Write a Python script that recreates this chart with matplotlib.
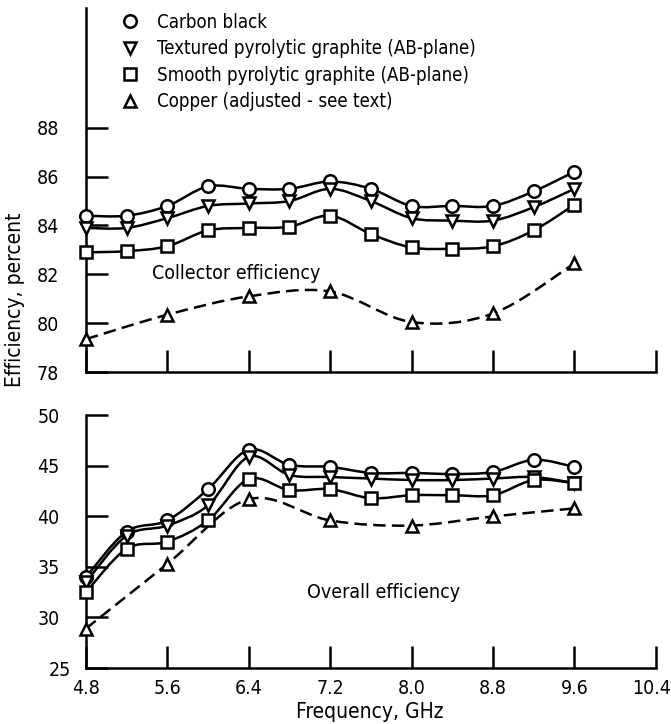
import numpy as np
import matplotlib
matplotlib.use("Agg")
import matplotlib.pyplot as plt
import matplotlib.transforms as mtransforms
from matplotlib.path import Path
from matplotlib.patches import PathPatch
from matplotlib.lines import Line2D

plt.rcParams['font.family'] = ['DejaVu Sans']
plt.rcParams['font.stretch'] = 'condensed'

# frequency points, GHz
freq = [4.8, 5.2, 5.6, 6.0, 6.4, 6.8, 7.2, 7.6, 8.0, 8.4, 8.8, 9.2, 9.6]
freq_cu = [4.8, 5.6, 6.4, 7.2, 8.0, 8.8, 9.6]

# collector efficiency, percent
coll_carbon = [84.4, 84.4, 84.8, 85.6, 85.5, 85.5, 85.8, 85.5, 84.8, 84.8, 84.8, 85.4, 86.2]
coll_textured = [83.9, 83.9, 84.3, 84.8, 84.9, 85.0, 85.5, 85.0, 84.3, 84.2, 84.2, 84.75, 85.5]
coll_smooth = [82.9, 82.95, 83.15, 83.8, 83.9, 83.95, 84.4, 83.65, 83.1, 83.05, 83.15, 83.8, 84.85]
coll_copper = [79.35, 80.35, 81.1, 81.3, 80.05, 80.4, 82.45]

# overall efficiency, percent
ovr_carbon = [34.0, 38.5, 39.6, 42.7, 46.6, 45.1, 44.9, 44.3, 44.3, 44.2, 44.4, 45.6, 44.9]
ovr_textured = [33.5, 38.1, 39.1, 41.1, 45.9, 44.1, 43.9, 43.75, 43.6, 43.6, 43.75, 43.9, 43.3]
ovr_smooth = [32.5, 36.8, 37.5, 39.6, 43.7, 42.6, 42.7, 41.8, 42.1, 42.1, 42.1, 43.6, 43.3]
ovr_copper = [28.9, 35.3, 41.7, 39.6, 39.1, 40.0, 40.8]

labels = ['Carbon black',
          'Textured pyrolytic graphite (AB-plane)',
          'Smooth pyrolytic graphite (AB-plane)',
          'Copper (adjusted - see text)']
markers = ['o', 'v', 's', '^']

xticks = [4.8, 5.6, 6.4, 7.2, 8.0, 8.8, 9.6, 10.4]
xticklabels = ['4.8', '5.6', '6.4', '7.2', '8.0', '8.8', '9.6', '10.4']

LW = 1.8


def smooth_path(x, y):
    # Catmull-Rom curve through the points, drawn as cubic Bezier segments
    p = np.column_stack([x, y]).astype(float)
    n = len(p)
    verts = [p[0]]
    codes = [Path.MOVETO]
    for i in range(n - 1):
        p0 = p[i - 1] if i > 0 else p[i]
        p3 = p[i + 2] if i + 2 < n else p[i + 1]
        c1 = p[i] + (p[i + 1] - p0) / 6.0
        c2 = p[i + 1] - (p3 - p[i]) / 6.0
        verts += [c1, c2, p[i + 1]]
        codes += [Path.CURVE4] * 3
    return Path(verts, codes)


def draw_series(ax, x, y, marker, dashed=False):
    ls = (0, (5, 2.5)) if dashed else '-'
    ax.add_patch(PathPatch(smooth_path(x, y), fill=False, lw=LW,
                           ls=ls, ec='black', zorder=2))
    ax.plot(x, y, ls='none', marker=marker, ms=9, mfc='white',
            mec='black', mew=LW, zorder=3, clip_on=False)


def style_axis(ax):
    ax.spines['top'].set_visible(False)
    ax.spines['right'].set_visible(False)
    for s in ('left', 'bottom'):
        ax.spines[s].set_linewidth(LW)
    ax.tick_params(direction='in', length=16, width=LW, labelsize=14)
    ax.tick_params(axis='y', pad=19)
    ax.tick_params(axis='x', pad=8)
    ax.set_xlim(4.8, 10.4)
    ax.set_xticks(xticks)


def shift_label(label, dx, dy=0):
    off = mtransforms.ScaledTranslation(dx / 100, dy / 100, fig.dpi_scale_trans)
    label.set_transform(label.get_transform() + off)


fig = plt.figure(figsize=(6.71, 7.24), dpi=100)
ax1 = fig.add_axes([0.128, 0.486, 0.8495, 0.503])
ax2 = fig.add_axes([0.128, 0.0773, 0.8495, 0.349])

# collector efficiency panel
draw_series(ax1, freq, coll_carbon, 'o')
draw_series(ax1, freq, coll_textured, 'v')
draw_series(ax1, freq, coll_smooth, 's')
draw_series(ax1, freq_cu, coll_copper, '^', dashed=True)
style_axis(ax1)
ax1.set_ylim(78, 92.9)
ax1.set_yticks([78, 80, 82, 84, 86, 88])
ax1.set_xticklabels([])
ax1.text(5.45, 82.05, 'Collector efficiency', fontsize=14, va='center')

handles = [Line2D([], [], ls='none', marker=m, ms=9, mfc='white',
                  mec='black', mew=LW) for m in markers]
ax1.legend(handles, labels, loc='upper left',
           bbox_to_anchor=(121 / 671, 1 - 13 / 724),
           bbox_transform=fig.transFigure,
           frameon=False, fontsize=13.4, handlelength=1.0,
           handletextpad=0.95, labelspacing=0.4, borderaxespad=0,
           borderpad=0)

# overall efficiency panel
draw_series(ax2, freq, ovr_carbon, 'o')
draw_series(ax2, freq, ovr_textured, 'v')
draw_series(ax2, freq, ovr_smooth, 's')
draw_series(ax2, freq_cu, ovr_copper, '^', dashed=True)
style_axis(ax2)
ax2.set_ylim(25, 50)
ax2.set_yticks([25, 30, 35, 40, 45, 50])
ax2.set_xticklabels(xticklabels)
ax2.text(6.97, 32.5, 'Overall efficiency', fontsize=14, va='center')

# keep the corner labels clear of each other and of the figure edge
shift_label(ax2.get_yticklabels()[0], 12)
shift_label(ax2.get_xticklabels()[-1], -4)

fig.text(370 / 671, 1 - 712 / 724, 'Frequency, GHz', fontsize=15,
         ha='center', va='center')
fig.text(15 / 671, 1 - 300 / 724, 'Efficiency, percent', rotation=90,
         fontsize=15, ha='center', va='center')

fig.savefig('out.png', dpi=100)
